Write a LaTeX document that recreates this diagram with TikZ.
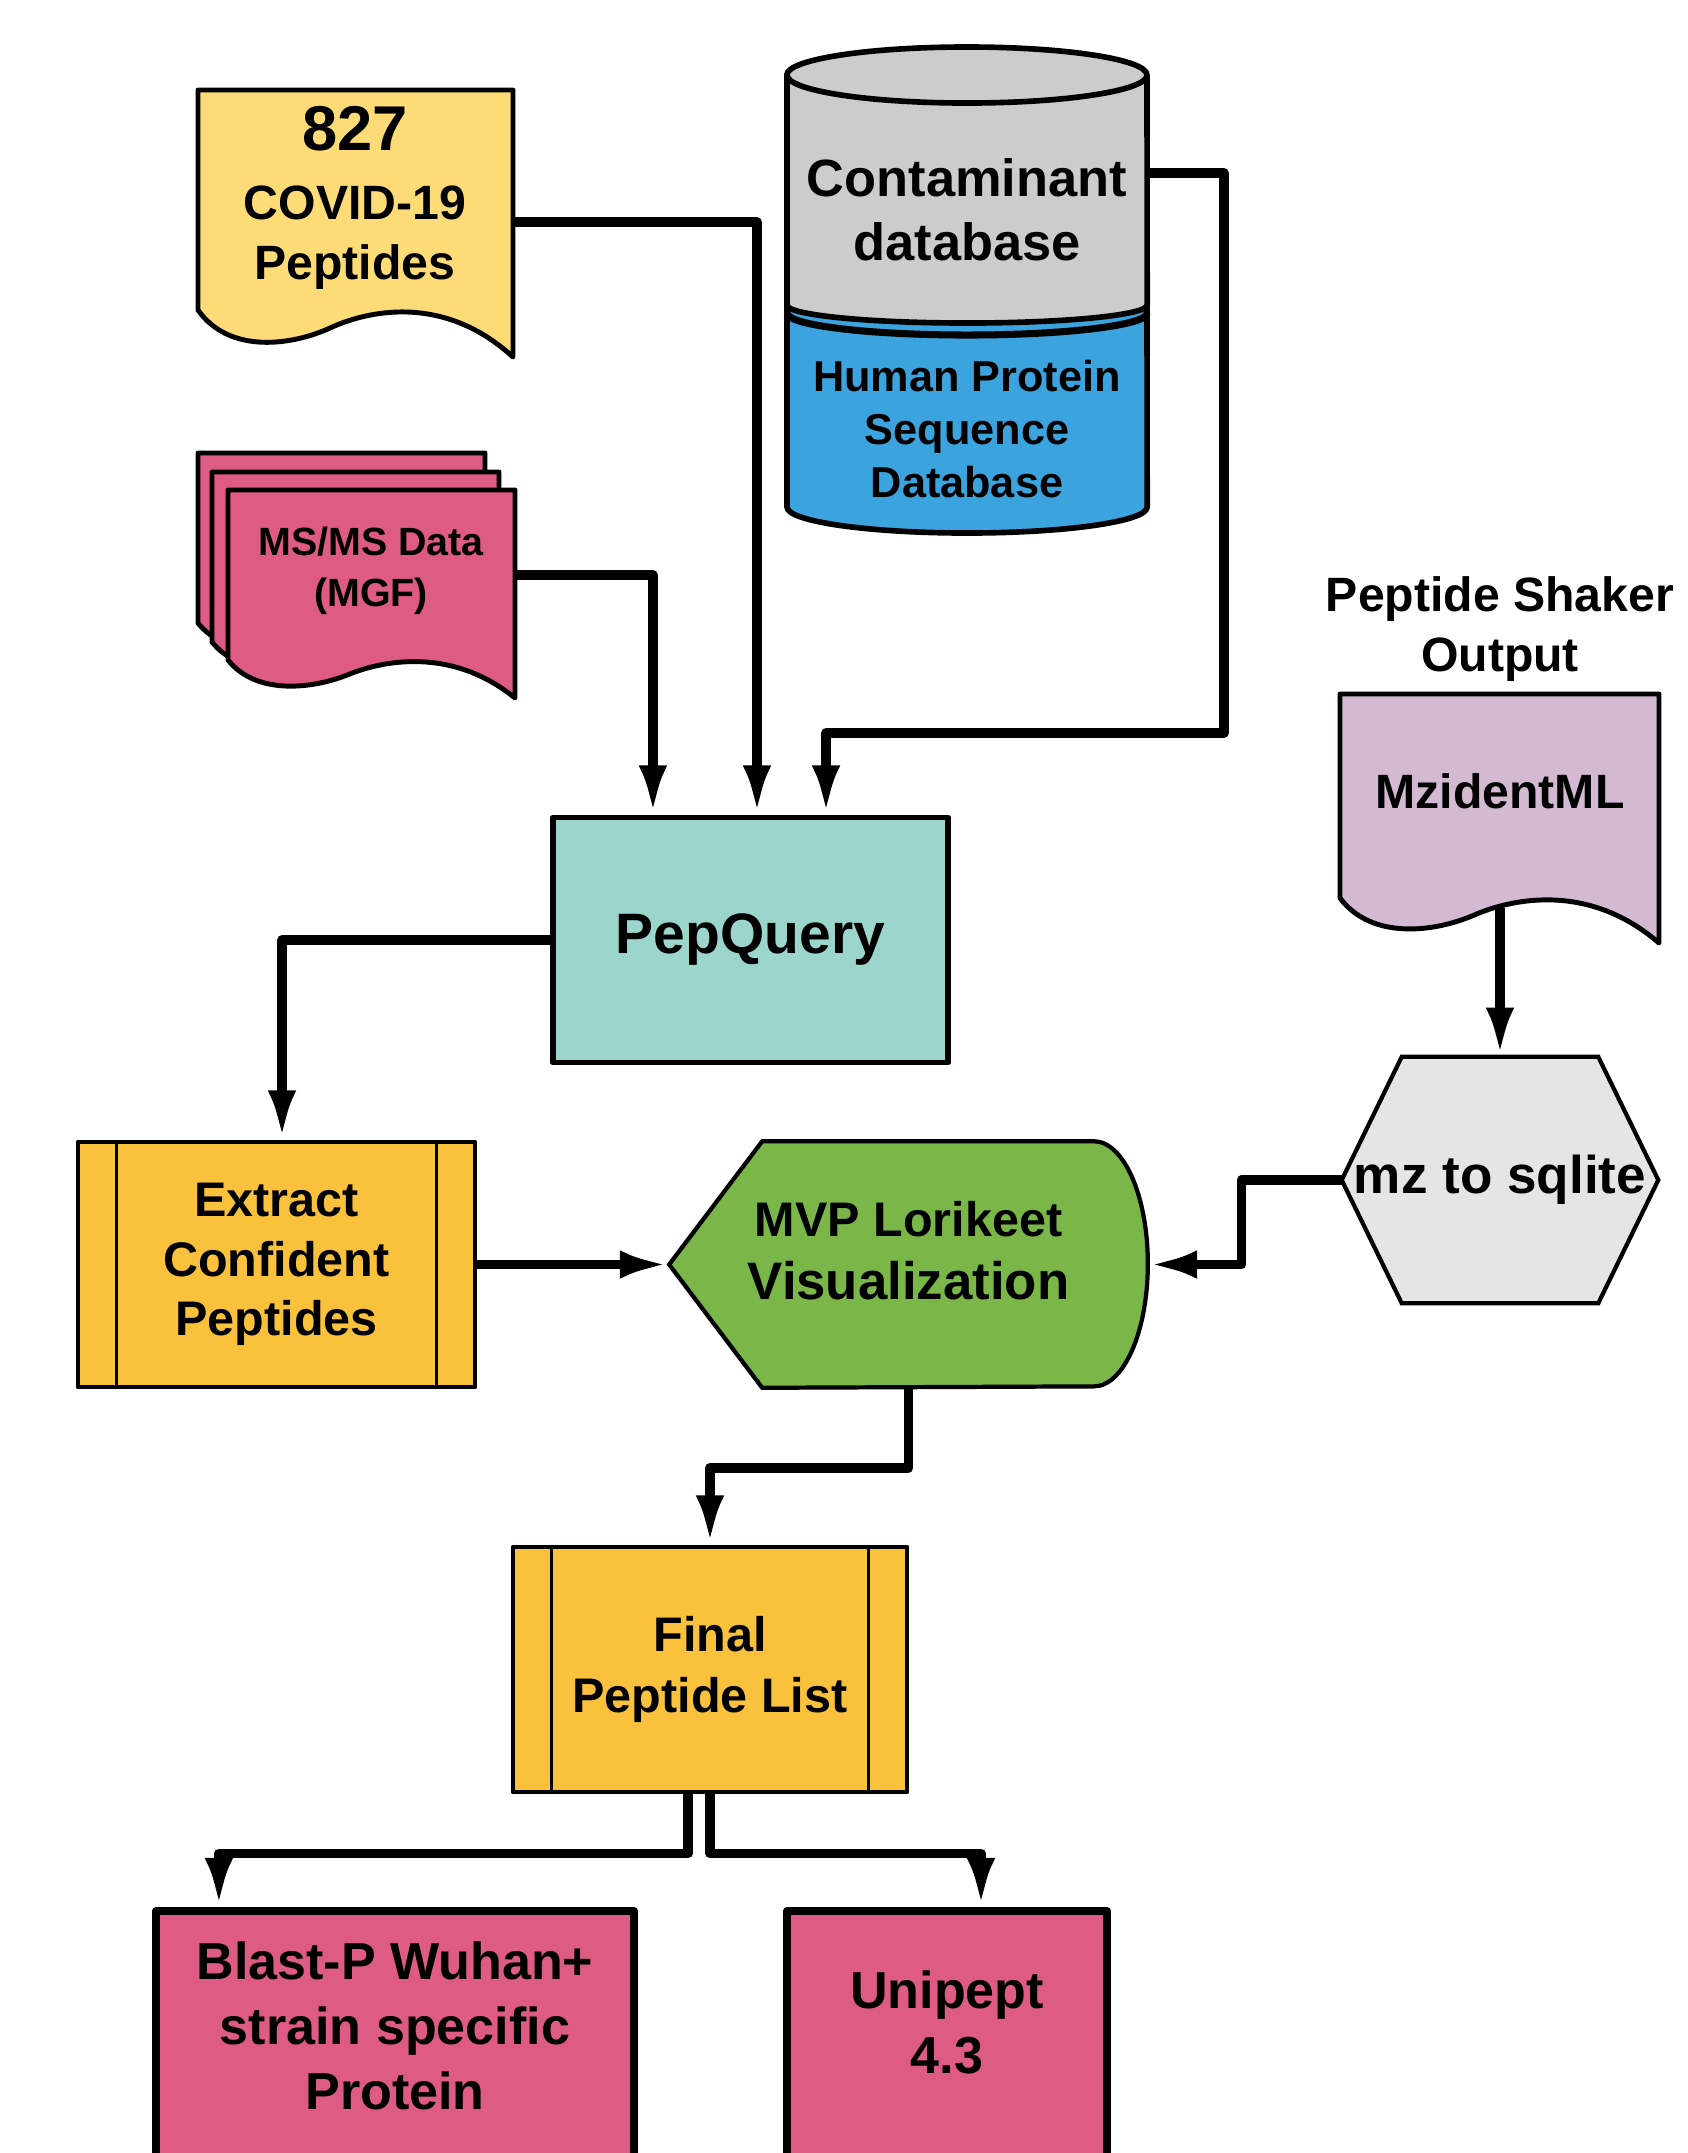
\documentclass[tikz,border=0pt]{standalone}
\usepackage{fontspec}
\setmainfont{Liberation Sans}
\usetikzlibrary{arrows.meta,backgrounds}

\definecolor{covidyel}{HTML}{FDDB76}
\definecolor{dbgray}{HTML}{CCCCCC}
\definecolor{dbblue}{HTML}{3BA3DD}
\definecolor{mspink}{HTML}{DE5B83}
\definecolor{pqteal}{HTML}{9BD5CB}
\definecolor{mzlilac}{HTML}{D3B9D2}
\definecolor{hexgray}{HTML}{E5E5E5}
\definecolor{mvpgreen}{HTML}{7AB648}
\definecolor{procorange}{HTML}{FAC23C}

% document shape: fill, left x, top y, width, side height, drop on the right
\newcommand{\docshape}[6]{%
  \draw[line width=1.4pt, fill=#1] ({#2},{#3}) -- ++(#4,0) -- ++(0,{#5+#6})
    .. controls ({#2+0.78*#4},{#3+#5-0.35*#6}) and ({#2+0.54*#4},{#3+#5+0.01*#6})
    .. ({#2+0.42*#4},{#3+#5+0.38*#6})
    .. controls ({#2+0.3*#4},{#3+#5+0.75*#6}) and ({#2+0.1*#4},{#3+#5+0.95*#6})
    .. ({#2},{#3+#5}) -- cycle;}

\begin{document}
\begin{tikzpicture}[x=0.01cm, y=-0.01cm, line join=round,
    >={Latex[length=14pt,width=8pt]},
    lbl/.style 2 args={font=\bfseries\fontsize{#1}{#2}\selectfont, align=center},
    flow/.style={->, line width=2.7pt},
    proc/.style={draw, line width=1.6pt, minimum width=3.95cm, minimum height=2.45cm},
    outbox/.style={draw, line width=2.2pt, fill=mspink, minimum height=2.5cm}]

    \useasboundingbox (0,0) rectangle (1688,2153);
    \begin{scope}[on background layer]
      \fill[white] (0,0) rectangle (1688,2153);
    \end{scope}

    % inputs
    \docshape{covidyel}{198}{90}{315}{220}{47}
    \node[lbl={13.7}{17}] (covid) at (355,198)
      {{\fontsize{18}{20}\selectfont 827}\\[2.5pt]COVID-19\\Peptides};
    \foreach \dx/\dy in {30/37,16/18,0/0}
    {
      \docshape{mspink}{228-\dx}{490-\dy}{287}{170}{38}
    }
    \node[lbl={11.2}{14.5}] (msms) at (371,571) {MS/MS Data\\(MGF)};

    % database stack
    \draw[line width=1.6pt, fill=dbblue] (787,300) -- (787,507)
      arc[start angle=180, end angle=360, x radius=1.8cm, y radius=0.26cm] -- (1147,300);
    \draw[line width=2pt] (787,313)
      arc[start angle=180, end angle=360, x radius=1.8cm, y radius=0.22cm];
    \draw[line width=1.6pt, fill=dbgray] (787,75) -- (787,305)
      arc[start angle=180, end angle=360, x radius=1.8cm, y radius=0.18cm] -- (1147,75)
      arc[start angle=0, end angle=180, x radius=1.8cm, y radius=0.28cm] -- cycle;
    \draw[line width=1.6pt] (787,75)
      arc[start angle=180, end angle=360, x radius=1.8cm, y radius=0.28cm];
    \node[lbl={14.9}{18.3}] (contam) at (967,210) {Contaminant\\database};
    \node[lbl={12.3}{15.2}] (human) at (967,429) {Human Protein\\Sequence\\Database};

    % peptide shaker side
    \node[lbl={13.7}{17}] (shaker) at (1500,629) {Peptide Shaker\\Output};
    \docshape{mzlilac}{1340}{694}{319}{204}{45}
    \node[lbl={13.7}{16}] (mzid) at (1500,791) {MzidentML};
    \node[lbl={15.1}{18}, inner sep=0pt, minimum width=3.15cm, minimum height=2.45cm]
      (sqlite) at (1500,1180) {mz to sqlite};

    % processing
    \node[proc, fill=pqteal, lbl={16.2}{19}] (pepq) at (750.5,940) {PepQuery};
    \node[proc, fill=procorange, line width=1.3pt, minimum width=3.97cm, lbl={13.8}{17}]
      (extract) at (276.5,1264.5) {Extract\\Confident\\Peptides};
    \node[lbl={13.8}{18}, inner sep=0pt, minimum width=4.77cm, minimum height=2.45cm,
      text depth=8pt] (mvp) at (908.5,1264.5)
      {MVP Lorikeet\\{\fontsize{15}{18}\selectfont Visualization}};
    \node[proc, fill=procorange, line width=1.3pt, minimum width=3.94cm, lbl={13.8}{17.4}]
      (final) at (710,1669.5) {Final\\Peptide List};
    \node[outbox, minimum width=4.78cm, lbl={14.8}{18.5}, text depth=6pt] (blast) at (395,2036)
      {Blast-P Wuhan+\\strain specific\\Protein};
    \node[outbox, minimum width=3.2cm, lbl={14.8}{18.5}, text depth=8pt] (unipept) at (947,2036)
      {Unipept\\4.3};

    \begin{scope}[on background layer]
      \draw[line width=1.2pt, fill=hexgray] (sqlite.west)
        -- ([xshift=0.6cm]sqlite.north west) -- ([xshift=-0.6cm]sqlite.north east)
        -- (sqlite.east) -- ([xshift=-0.6cm]sqlite.south east)
        -- ([xshift=0.6cm]sqlite.south west) -- cycle;
      \draw[line width=1.2pt, fill=mvpgreen] (mvp.west)
        -- ([xshift=0.93cm]mvp.north west) -- ([xshift=-0.54cm]mvp.north east)
        arc[start angle=90, end angle=-90, x radius=0.54cm, y radius=1.225cm]
        -- ([xshift=0.93cm]mvp.south west) -- cycle;
    \end{scope}
    \foreach \n in {extract,final}
    {
      \draw[line width=1pt] ([xshift=0.41cm]\n.north west) -- ([xshift=0.41cm]\n.south west);
      \draw[line width=1pt] ([xshift=-0.41cm]\n.north east) -- ([xshift=-0.41cm]\n.south east);
    }

    % connectors
    \coordinate (covr) at (513,222);
    \coordinate (msr) at (515,575);
    \coordinate (dbr) at (1147,173);
    \coordinate (mzb) at (1500,908);
    \draw[flow] (msr) -| ([xshift=-0.975cm]pepq.north);
    \draw[flow] (covr) -| ([xshift=0.065cm]pepq.north);
    \draw[flow] (dbr) -- ++(77,0) -- ++(0,560) -| ([xshift=0.755cm]pepq.north);
    \draw[flow] (pepq.west) -| ([xshift=0.055cm]extract.north);
    \draw[flow] (extract.east) -- (mvp.west);
    \draw[flow] (mzb) -- (sqlite.north);
    \draw[flow] (sqlite.west) -- ++(-100,0) |- (mvp.east);
    \draw[flow] (mvp.south) -- ++(0,80) -| (final.north);
    \draw[flow] ([xshift=-0.22cm]final.south) -- ++(0,59) -| ([xshift=-1.76cm]blast.north);
    \draw[flow] (final.south) -- ++(0,59) -| ([xshift=0.34cm]unipept.north);
\end{tikzpicture}
\end{document}
